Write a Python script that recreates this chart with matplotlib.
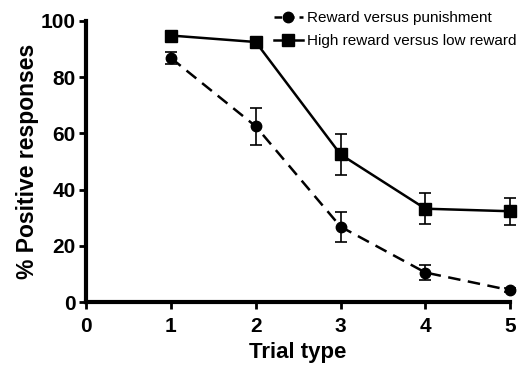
import matplotlib.pyplot as plt
from matplotlib.lines import Line2D

plt.rcParams['font.family'] = ['Liberation Sans', 'DejaVu Sans']

trial = [1, 2, 3, 4, 5]
rp_mean = [86.8, 62.5, 26.8, 10.5, 4.2]
rp_err = [2.3, 6.5, 5.3, 2.6, 0.8]
hl_mean = [94.8, 92.5, 52.5, 33.2, 32.3]
hl_err = [0.8, 0.8, 7.2, 5.6, 4.8]
labels = ['Reward versus punishment', 'High reward versus low reward']

fig = plt.figure(figsize=(5.19, 3.67), dpi=100)
ax = fig.add_axes([0.166, 0.177, 0.817, 0.766])

ax.errorbar(trial, rp_mean, yerr=rp_err, fmt='o', ls=(0, (5, 3)), color='black',
            lw=1.8, ms=7.5, capsize=4, elinewidth=1.2, capthick=1.2, clip_on=False)
ax.errorbar(trial, hl_mean, yerr=hl_err, fmt='s', ls='-', color='black',
            lw=1.8, ms=8, capsize=4, elinewidth=1.2, capthick=1.2, clip_on=False)

ax.set_xlim(0, 5)
ax.set_ylim(0, 100)
ax.set_xticks([0, 1, 2, 3, 4, 5])
ax.set_yticks([0, 20, 40, 60, 80, 100])
for s in ['top', 'right']:
    ax.spines[s].set_visible(False)
for s in ['left', 'bottom']:
    ax.spines[s].set_linewidth(3)
ax.tick_params(width=2, length=5, labelsize=15)
ax.tick_params(axis='x', pad=6)
ax.tick_params(axis='y', pad=2.5)
for lab in ax.get_xticklabels() + ax.get_yticklabels():
    lab.set_fontweight('bold')

ax.set_xlabel('Trial type', fontsize=16, fontweight='bold', labelpad=4)
ax.set_ylabel('% Positive responses', fontsize=16.5, fontweight='bold', labelpad=1)

handles = [Line2D([], [], color='black', ls=(0, (3, 2)), lw=1.8, marker='o', ms=7.5),
           Line2D([], [], color='black', ls='-', lw=1.8, marker='s', ms=8)]
ax.legend(handles, labels, loc='upper right', bbox_to_anchor=(1.03, 1.057), frameon=False,
          fontsize=11, handlelength=1.9, handletextpad=0.3, labelspacing=0.6,
          borderaxespad=0)

fig.savefig('out.png', dpi=100)
